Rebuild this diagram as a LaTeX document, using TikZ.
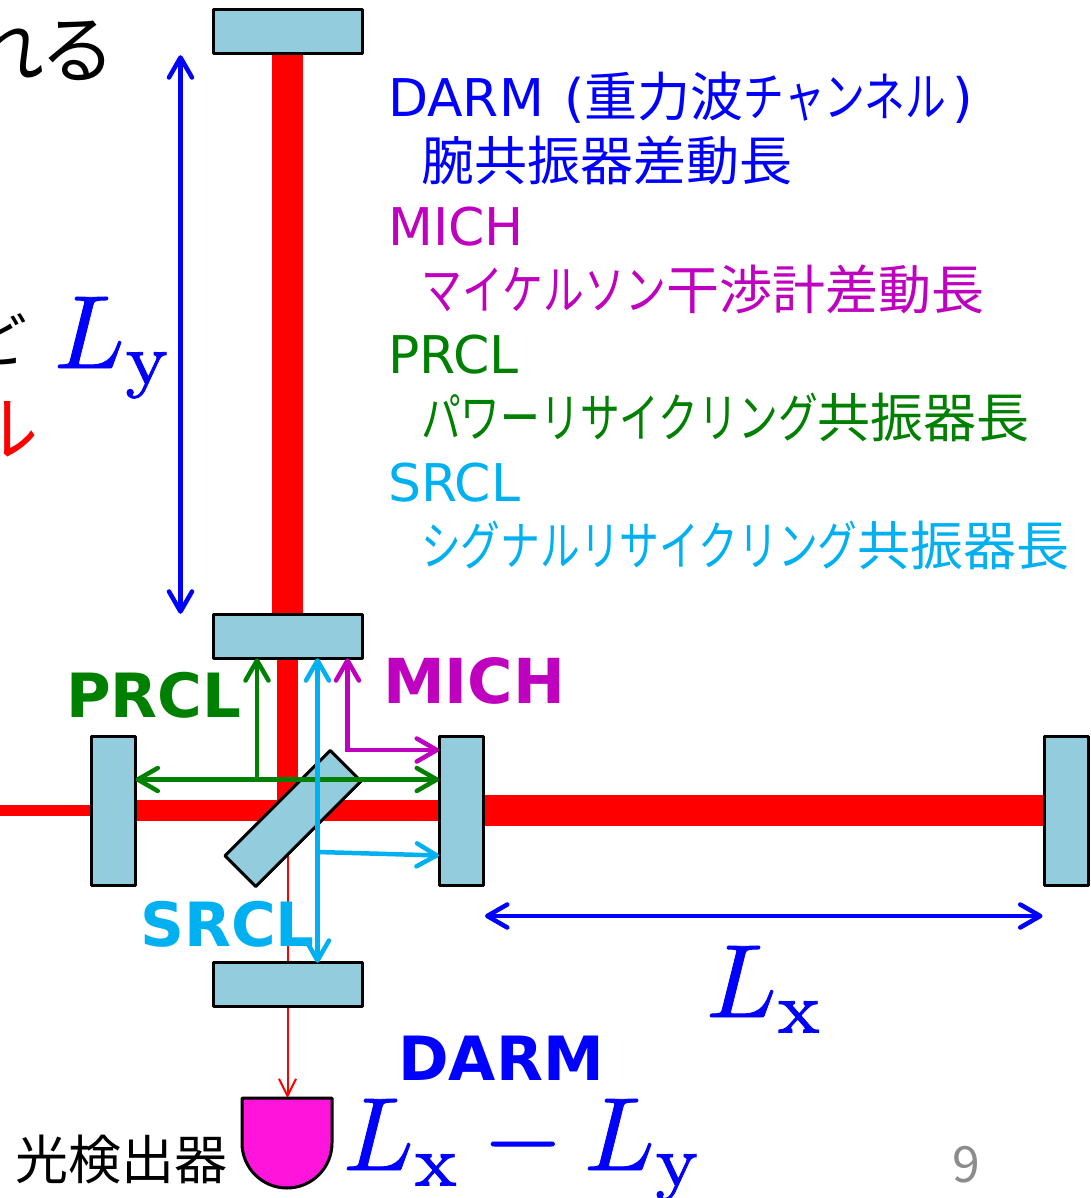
\documentclass[tikz,border=0pt]{standalone}
\usepackage[no-math]{fontspec}
\setmainfont{Noto Sans CJK JP}[RawFeature=+palt]
\newfontfamily\boldlabel{DejaVu Sans Bold}
\newfontfamily\latinpart{DejaVu Sans}
\newfontfamily\kana{Noto Sans CJK JP}[FakeStretch=0.77]
\newfontfamily\kanatight{Noto Sans CJK JP}[FakeStretch=0.75]
\usepackage{tikz}
\usetikzlibrary{positioning, arrows.meta}
\definecolor{mirrorblue}{HTML}{93CDDD}
\definecolor{prclgreen}{HTML}{008000}
\definecolor{michpurple}{HTML}{BF00BF}
\definecolor{srclcyan}{HTML}{00B0F0}
\definecolor{pdpink}{HTML}{FF14DC}
\definecolor{pagegray}{HTML}{8C8C8C}
\newcommand{\heavy}[1]{\special{pdf:code 2 Tr 0.08 w}#1\special{pdf:code 0 Tr}}

\begin{document}
\begin{tikzpicture}[x=1pt, y=1pt, >={Straight Barb[length=20pt, width=23pt, line width=4.5pt, round]},
    mirror/.style={draw=black, line width=3pt, line join=round, fill=mirrorblue, rectangle, inner sep=0pt, outer sep=0pt},
    hmirror/.style={mirror, minimum width=149pt, minimum height=43.5pt},
    vmirror/.style={mirror, minimum width=44pt, minimum height=149pt},
    beam/.style={draw=red},
    sig/.style={<->, line width=4.5pt, line cap=round},
    listrow/.style={anchor=base west, inner sep=0pt, font=\fontsize{53}{60}\selectfont},
    latinrow/.style={anchor=base west, inner sep=0pt, font=\fontsize{52}{60}\latinpart},
    boldtag/.style={anchor=base west, inner sep=0pt, font=\fontsize{61}{70}\boldlabel},
    bigmath/.style={anchor=base west, inner sep=0pt, text=blue, scale=10.4, transform shape}]

    \useasboundingbox (0,0) rectangle (1091,-1198);

    % mirrors, drawn later on top of the beams
    \path node[hmirror, draw=none, fill=none] (ITMY) at (287.5,-636.5) {};
    \path node[hmirror, draw=none, fill=none, above=561.5pt of ITMY] (ETMY) {};
    \path node[hmirror, draw=none, fill=none, below=304.5pt of ITMY] (SRM) {};
    \path node[vmirror, draw=none, fill=none] (PRM) at (113.5,-810.5) {};
    \path node[vmirror, draw=none, fill=none, right=303.5pt of PRM] (ITMX) {};
    \path node[vmirror, draw=none, fill=none, right=561.5pt of ITMX] (ETMX) {};
    \coordinate (laser) at (0,-810.5);
    \coordinate (centre) at (ITMY.south |- PRM.east);
    \node[minimum width=90pt, minimum height=90pt, inner sep=0pt, outer sep=0pt] (PD) at (287,-1143) {};

    % beams
    \draw[beam, line width=31pt] (ETMY.south) -- (ITMY.north);
    \draw[beam, line width=31pt] (ITMX.east) -- (ETMX.west);
    \draw[beam, line width=21pt] (ITMY.south) -- (centre);
    \draw[beam, line width=21pt] (PRM.east) -- (ITMX.west);
    \draw[beam, line width=10.5pt] (laser) -- (PRM.west);
    \draw[beam, line width=2pt] (centre) -- (SRM.north);
    \draw[beam, line width=2pt, ->, >={Straight Barb[length=17pt, width=17pt]}] (SRM.south) -- (SRM.south |- PD.north);

    % mirrors
    \node[hmirror] at (ETMY) {};
    \node[hmirror] at (ITMY) {};
    \node[hmirror] at (SRM) {};
    \node[vmirror] at (PRM) {};
    \node[vmirror] at (ITMX) {};
    \node[vmirror] at (ETMX) {};
    \node[hmirror, rotate=45] (BS) at (293,-818.5) {};

    % photodetector
    \draw[line width=3pt, line join=round, fill=pdpink] (PD.north west) -- (PD.north east) -- (PD.east) arc (0:-180:45pt) -- cycle;
    \node[left=14pt of PD.west, yshift=-16pt, inner sep=0pt, font=\fontsize{53}{60}\selectfont] (PDname) {光検出器};

    % length arrows
    \draw[sig, draw=blue] ([xshift=-107pt, yshift=-2pt]ETMY.south) -- ([xshift=-107pt, yshift=1pt]ITMY.north);
    \draw[sig, draw=blue] ([xshift=2pt, yshift=-31pt]ITMX.south east) -- ([xshift=-2pt, yshift=-31pt]ETMX.south west);

    % signal arrows
    \draw[sig, draw=prclgreen] (PRM.east |- 0,-779.5) -- (ITMX.west |- 0,-779.5);
    \coordinate (prclfoot) at (257,-779.5);
    \draw[sig, -> , draw=prclgreen] (prclfoot) -- (prclfoot |- ITMY.south);
    \draw[sig, draw=michpurple] ([xshift=60pt]ITMY.south) |- ([yshift=60.5pt]ITMX.west);
    \draw[sig, draw=srclcyan] ([xshift=30pt]ITMY.south) -- ([xshift=30pt]SRM.north);
    \coordinate (srclfoot) at (318,-852);
    \draw[sig, ->, draw=srclcyan] (srclfoot) -- ([yshift=-45pt]ITMX.west);

    % labels on the interferometer
    \node[boldtag, text=prclgreen] (PRCLtag) at (66,-717) {PRCL};
    \node[boldtag, text=michpurple, font=\fontsize{62}{70}\boldlabel] (MICHtag) at (383,-703) {MICH};
    \node[boldtag, text=srclcyan] (SRCLtag) at (140,-946) {SRCL};
    \node[boldtag, text=blue] (DARMtag) at (398,-1080) {DARM};

    % lengths
    \node[bigmath] (Ly) at (52,-368) {\heavy{$L_{\mathrm{y}}$}};
    \node[bigmath] (Lx) at (704,-1017) {\heavy{$L_{\mathrm{x}}$}};
    \node[bigmath] (Lxy) at (341,-1170) {\heavy{$L_{\mathrm{x}} \mkern-0.6mu - \mkern-0.4mu L_{\mathrm{y}}$}};

    % list of lengths
    \node[listrow, text=blue] (darm) at (388,-117) {{\fontsize{52}{60}\latinpart DARM \hspace{4pt}(}重力波{\kana チャンネル}\hspace{6pt}{\latinpart )}};
    \node[listrow, text=blue] (darmtext) at ([xshift=33pt, yshift=-64pt]darm.base west) {腕共振器差動長};
    \node[latinrow, text=michpurple] (mich) at ([yshift=-128pt]darm.base west) {MICH};
    \node[listrow, text=michpurple] (michtext) at ([xshift=33pt, yshift=-64pt]mich.base west) {{\kana マイケルソン}干渉計差動長};
    \node[latinrow, text=prclgreen] (prcl) at ([yshift=-128pt]mich.base west) {PRCL};
    \node[listrow, text=prclgreen] (prcltext) at ([xshift=33pt, yshift=-64pt]prcl.base west) {{\kanatight パワーリサイクリング}共振器長};
    \node[latinrow, text=srclcyan] (srcl) at ([yshift=-128pt]prcl.base west) {SRCL};
    \node[listrow, text=srclcyan] (srcltext) at ([xshift=33pt, yshift=-64pt]srcl.base west) {{\kanatight シグナルリサイクリング}共振器長};

    % cut-off text at the slide edge
    \node[anchor=base east, inner sep=0pt, font=\fontsize{75}{80}\selectfont] (cuta) at (111,-78) {れる};
    \node[anchor=base east, inner sep=0pt, font=\fontsize{60}{70}\selectfont] (cutb) at (24,-362) {ど};
    \node[anchor=base east, inner sep=0pt, text=red, font=\fontsize{72}{80}\selectfont] (cutc) at (38,-455) {ル};

    % slide number
    \node[anchor=base, inner sep=0pt, text=pagegray, font=\fontsize{50}{60}\selectfont] (slideno) at (966,-1182) {9};
\end{tikzpicture}
\end{document}
